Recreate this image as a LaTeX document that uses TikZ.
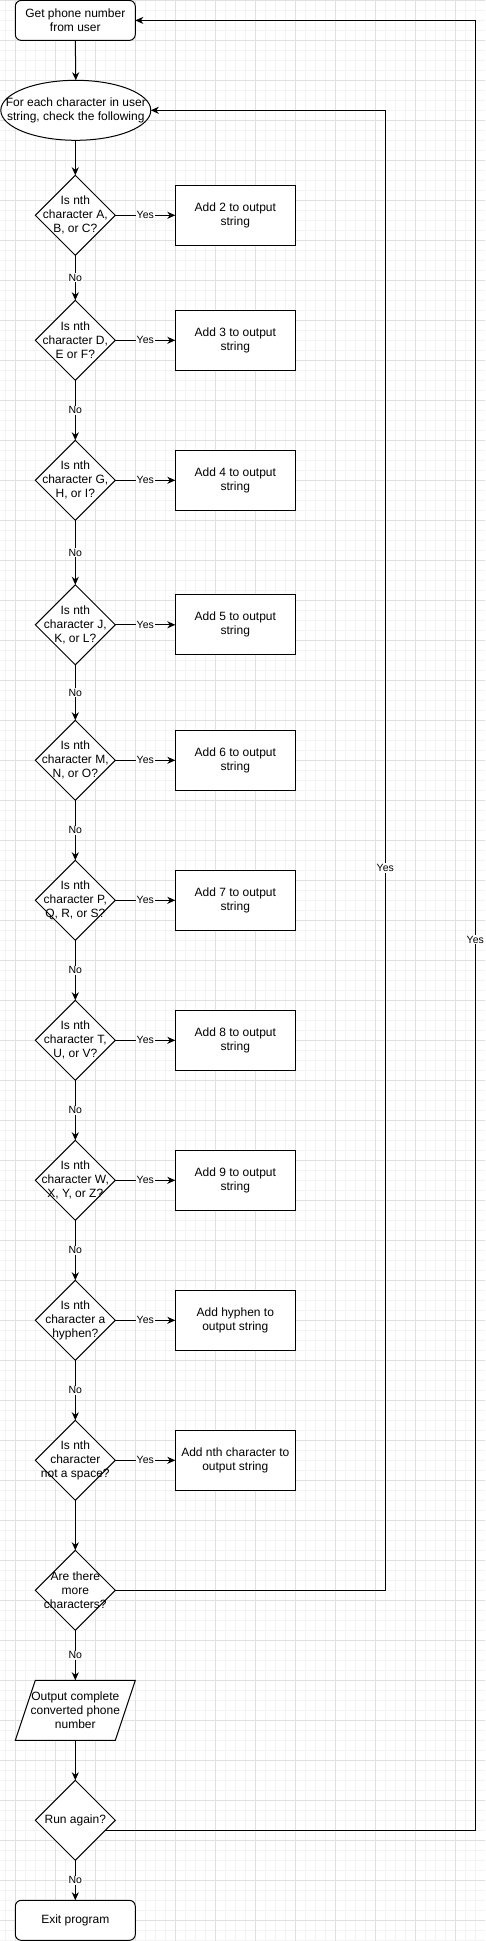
\documentclass[tikz,border=0pt]{standalone}
\usepackage{fontspec}
\setmainfont{Liberation Sans}
\usetikzlibrary{arrows.meta,shapes.geometric,calc}
\definecolor{gminor}{HTML}{F3F3F3}
\definecolor{gmajor}{HTML}{E0E0E0}
\newcommand{\fsmain}{\fontsize{12}{14}\selectfont}
\newcommand{\fslab}{\fontsize{10.5}{12}\selectfont}
\tikzset{
  base/.style={draw, line width=1pt, fill=white, inner sep=0pt, outer sep=0pt},
  term/.style={base, rectangle, rounded corners=6pt, minimum width=120pt, minimum height=40pt, font=\fsmain, align=center},
  proc/.style={base, rectangle, minimum width=120pt, minimum height=60pt, font=\fsmain, align=center},
  dec/.style={base, diamond, minimum width=80pt, minimum height=80pt},
  txt/.style={font=\fsmain, align=center, inner sep=0pt},
  arr/.style={line width=1pt, -{Stealth[length=8pt,width=7pt,inset=2.5pt]}},
  conn/.style={line width=1pt},
  lab/.style={font=\fslab, fill=white, inner sep=1pt},
}
\begin{document}
\begin{tikzpicture}[x=1pt,y=-1pt]
\useasboundingbox (0,0) rectangle (485,1941);
% background grid
\fill[white] (0,0) rectangle (485,1941);
\foreach \i in {0,...,47} \draw[gminor, line width=1pt] ({5.3+10*\i},0) -- ({5.3+10*\i},1941);
\foreach \j in {0,...,194} \draw[gminor, line width=1pt] (0,{0.3+10*\j}) -- (485,{0.3+10*\j});
\foreach \i in {0,...,11} \draw[gmajor, line width=0.5pt] ({15.3+40*\i},0) -- ({15.3+40*\i},1941);
\foreach \j in {0,...,48} \draw[gmajor, line width=0.5pt] (0,{0.3+40*\j}) -- (485,{0.3+40*\j});

% nodes
\node[term] (start) at (75.3,20.4) {Get phone number\\from user};
\node[base, ellipse, minimum width=150pt, minimum height=60pt] (loop) at (75.8,110.3) {};
\node[txt] (loopt) at (loop) {For each character in user\\string, check the following};

\node[dec] (d1) at (75.3,215.3) {};
\node[txt] (d1t) at (d1) {Is nth\\character A,\\B, or C?};
\node[proc] (b1) at (235.3,215.3) {Add 2 to output\\string};

\node[dec] (d2) at (75.3,340.3) {};
\node[txt] (d2t) at (d2) {Is nth\\character D,\\E or F?};
\node[proc] (b2) at (235.3,340.3) {Add 3 to output\\string};

\node[dec] (d3) at (75.3,480.3) {};
\node[txt] (d3t) at (d3) {Is nth\\character G,\\H, or I?};
\node[proc] (b3) at (235.3,480.3) {Add 4 to output\\string};

\node[dec] (d4) at (75.3,624.8) {};
\node[txt] (d4t) at (d4) {Is nth\\character J,\\K, or L?};
\node[proc] (b4) at (235.3,624.8) {Add 5 to output\\string};

\node[dec] (d5) at (75.3,760.3) {};
\node[txt] (d5t) at (d5) {Is nth\\character M,\\N, or O?};
\node[proc] (b5) at (235.3,760.3) {Add 6 to output\\string};

\node[dec] (d6) at (75.3,900.3) {};
\node[txt] (d6t) at (d6) {Is nth\\character P,\\Q, R, or S?};
\node[proc] (b6) at (235.3,900.3) {Add 7 to output\\string};

\node[dec] (d7) at (75.3,1040.3) {};
\node[txt] (d7t) at (d7) {Is nth\\character T,\\U, or V?};
\node[proc] (b7) at (235.3,1040.3) {Add 8 to output\\string};

\node[dec] (d8) at (75.3,1180.3) {};
\node[txt] (d8t) at (d8) {Is nth\\character W,\\X, Y, or Z?};
\node[proc] (b8) at (235.3,1180.3) {Add 9 to output\\string};

\node[dec] (d9) at (75.3,1320.3) {};
\node[txt] (d9t) at (d9) {Is nth\\character a\\hyphen?};
\node[proc] (b9) at (235.3,1320.3) {Add hyphen to\\output string};

\node[dec] (d10) at (75.3,1460.3) {};
\node[txt] (d10t) at (d10) {Is nth\\character\\not a space?};
\node[proc] (b10) at (235.3,1460.3) {Add nth character to\\output string};

\node[dec] (d11) at (75.3,1590.3) {};
\node[txt] (d11t) at (d11) {Are there\\more\\characters?};

\node[minimum width=120pt, minimum height=60pt, inner sep=0pt, outer sep=0pt] (out) at (75.3,1710.3) {};
\draw[line width=1pt, fill=white] ($(out.north west)+(20,0)$) -- (out.north east) -- ($(out.south east)-(20,0)$) -- (out.south west) -- cycle;
\node[txt] (outt) at (out) {Output complete\\converted phone\\number};

\node[dec] (run) at (75.3,1820.3) {};
\node[txt] (runt) at (run) {Run again?};

\node[term] (exit) at (75.3,1920.3) {Exit program};

% connectors
\draw[arr] (start.south) -- (loop.south |- loop.north);
\draw[arr] (loop.south -| d1.north) -- (d1.north);
\foreach \i in {1,...,10} {
  \draw[arr] (d\i.east) -- node[lab]{Yes} (b\i.west);
}
\foreach \i/\k in {1/2,2/3,3/4,4/5,5/6,6/7,7/8,8/9,9/10} {
  \draw[arr] (d\i.south) -- node[lab]{No} (d\k.north);
}
\draw[arr] (d10.south) -- (d11.north);
\draw[arr] (d11.south) -- node[lab]{No} (out.north);
\draw[arr] (out.south) -- (run.north);
\draw[arr] (run.south) -- node[lab]{No} (exit.north);

\coordinate (ia) at (385.3,110.3);
\draw[arr] (d11.east) -| node[lab,pos=0.744]{Yes} (ia) -- (loop.east);

\coordinate (rs) at ($(run.east)!0.5!(run.south east)$);
\coordinate (oa) at (475.3,20.4);
\draw[arr] (rs) -| node[lab,pos=0.746]{Yes} (oa) -- (start.east);
\end{tikzpicture}
\end{document}
